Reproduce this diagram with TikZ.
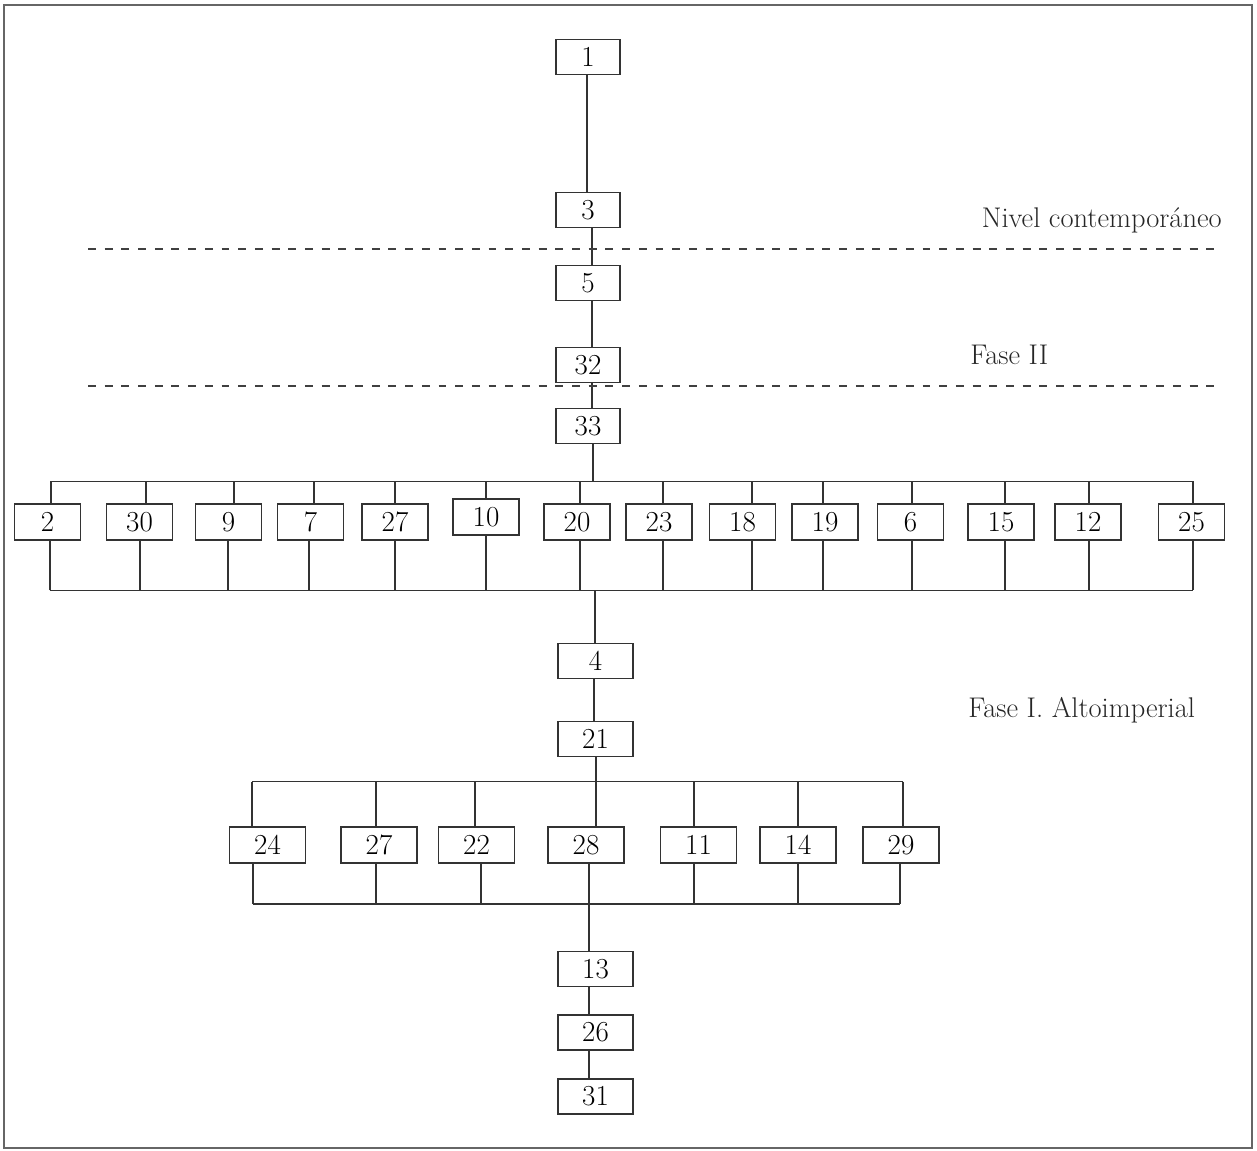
\documentclass[tikz,border=0pt]{standalone}
\begin{document}
\begin{tikzpicture}[x=0.02cm,y=-0.02cm,
  ln/.style={line width=0.9pt, draw=black!80},
  numf/.style={font=\fontsize{16.5}{19}\selectfont},
  topbox/.style={ln, numf, inner sep=0pt, minimum width=1.28cm, minimum height=0.7cm},
  rowbox/.style={ln, numf, inner sep=0pt, minimum width=1.32cm, minimum height=0.72cm},
  midbox/.style={ln, numf, inner sep=0pt, minimum width=1.5cm, minimum height=0.7cm},
  lowbox/.style={ln, numf, inner sep=0pt, minimum width=1.52cm, minimum height=0.72cm},
  dashln/.style={line width=0.8pt, draw=black!75, dash pattern=on 4.5pt off 5pt},
  lab/.style={inner sep=0pt, font=\fontsize{16.2}{19}\selectfont, text=black!85}
]
\useasboundingbox (0,0) rectangle (1257,1151);
% frame
\draw[black!60, line width=1.1pt] (4,5) rectangle (1252,1148);

% top spine
\node[topbox] (n1) at (588,57) {1};
\node[topbox] (n3) at (588,210) {3};
\node[topbox] (n5) at (588,283) {5};
\node[topbox] (n32) at (588,365) {32};
\node[topbox] (n33) at (588,426) {33};
\draw[ln] ([xshift=-0.02cm]n1.south) -- ([xshift=-0.02cm]n3.north);
\draw[ln] ([xshift=0.08cm]n3.south) -- ([xshift=0.08cm]n5.north);
\draw[ln] ([xshift=0.08cm]n5.south) -- ([xshift=0.08cm]n32.north);
\draw[ln] ([xshift=0.08cm]n32.south) -- ([xshift=0.08cm]n33.north);

% phase separators and labels
\coordinate (d1a) at (88,249);
\coordinate (d1b) at (1220,249);
\coordinate (d2a) at (88,386);
\coordinate (d2b) at (1220,386);
\draw[dashln] (d1a) -- (d1b);
\draw[dashln] (d2a) -- (d2b);
\node[lab, anchor=base east] (l1) at (1222,228) {Nivel contemporáneo};
\node[lab, anchor=base west] (l2) at (970,365) {Fase II};
\node[lab, anchor=base west] (l3) at (968,717) {Fase I. Altoimperial};

% upper row
\coordinate (tbus) at (593,481.5);
\draw[ln] (n33.south -| tbus) -- (tbus);
\foreach \nm/\x/\y/\tx/\bx in {2/47.5/522/51/50, 30/139.5/522/146/140, 9/228.5/522/234/228,
  7/310.5/522/314/309, 27/395/522/395/395, 10/486/517/486/486, 20/577/522/580/580,
  23/659/522/663/663, 18/742.5/522/752/752, 19/825/522/823/823, 6/910.5/522/912/912,
  15/1001/522/1005/1005, 12/1088/522/1089/1089, 25/1191.5/522/1193/1193}{
  \node[rowbox] (a\nm) at (\x,\y) {\nm};
  \coordinate (at\nm) at (\tx,481.5);
  \coordinate (ab\nm) at (\bx,590.5);
  \draw[ln] (at\nm) -- (at\nm |- a\nm.north);
  \draw[ln] (ab\nm) -- (ab\nm |- a\nm.south);
}
\draw[ln] (at2) -- (at25);
\draw[ln] (ab2) -- (ab25);

% middle spine
\coordinate (dn) at (595,590.5);
\node[midbox] (n4) at (595.5,661) {4};
\node[midbox] (n21) at (595.5,739) {21};
\draw[ln] (dn) -- (dn |- n4.north);
\draw[ln] ([xshift=-0.03cm]n4.south) -- ([xshift=-0.03cm]n21.north);

% lower row
\coordinate (lt) at (596,781.5);
\draw[ln] (n21.south -| lt) -- (lt);
\foreach \nm/\x/\tx/\bx in {24/267.5/252/253, 27/379/376/376, 22/476.5/475/481,
  28/586/596/589, 11/698.5/694/694, 14/798/798/798, 29/901/903/900}{
  \node[lowbox] (b\nm) at (\x,845) {\nm};
  \coordinate (bt\nm) at (\tx,781.5);
  \coordinate (bb\nm) at (\bx,904);
  \draw[ln] (bt\nm) -- (bt\nm |- b\nm.north);
  \draw[ln] (bb\nm) -- (bb\nm |- b\nm.south);
}
\draw[ln] (bt24) -- (bt29);
\draw[ln] (bb24) -- (bb29);

% bottom spine
\node[midbox] (n13) at (595.5,969) {13};
\node[midbox] (n26) at (595.5,1032.5) {26};
\node[midbox] (n31) at (595.5,1096.5) {31};
\draw[ln] (bb28) -- (bb28 |- n13.north);
\draw[ln] ([xshift=-0.13cm]n13.south) -- ([xshift=-0.13cm]n26.north);
\draw[ln] ([xshift=-0.13cm]n26.south) -- ([xshift=-0.13cm]n31.north);
\end{tikzpicture}
\end{document}
